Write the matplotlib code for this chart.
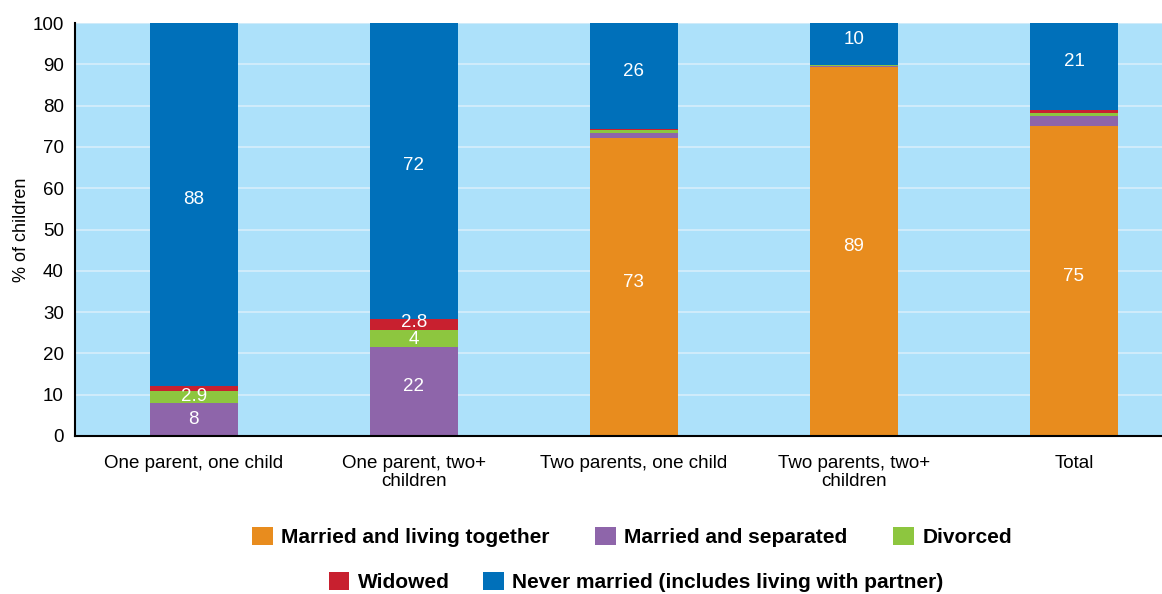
import numpy as np
import matplotlib.pyplot as plt

# categories and segment values (% of children)
categorias = ["One parent, one child", "One parent, two+\nchildren",
              "Two parents, one child", "Two parents, two+\nchildren", "Total"]
casados_juntos = [0.0, 0.0, 72.2, 89.3, 75.1]
casados_separados = [8.0, 21.6, 1.2, 0.3, 2.4]
divorciados = [2.9, 4.0, 0.7, 0.2, 0.6]
viuvos = [1.1, 2.8, 0.2, 0.0, 0.8]
nunca_casados = [88.0, 71.6, 25.7, 10.2, 21.1]

rotulos_juntos = ["", "", "73", "89", "75"]
rotulos_separados = ["8", "22", "", "", ""]
rotulos_divorciados = ["2.9", "4", "", "", ""]
rotulos_viuvos = ["", "2.8", "", "", ""]
rotulos_nunca = ["88", "72", "26", "10", "21"]

series = [
    ("Married and living together", casados_juntos, rotulos_juntos, "#E88C1E"),
    ("Married and separated", casados_separados, rotulos_separados, "#8E65AA"),
    ("Divorced", divorciados, rotulos_divorciados, "#8DC63F"),
    ("Widowed", viuvos, rotulos_viuvos, "#C8202F"),
    ("Never married (includes living with partner)", nunca_casados, rotulos_nunca, "#0070BA"),
]

plt.rcParams['font.family'] = ['Liberation Sans', 'DejaVu Sans']

fig = plt.figure(figsize=(11.62, 5.94), dpi=100)
ax = fig.add_axes([75 / 1162, 1 - 436 / 594, 1087 / 1162, 413 / 594])
ax.set_facecolor("#ADE1FA")

x = np.arange(len(categorias))
base = np.zeros(len(categorias))
handles = []
for nome, vals, rotulos, cor in series:
    vals = np.array(vals)
    b = ax.bar(x, vals, 0.4, bottom=base, color=cor, label=nome, zorder=2)
    handles.append(b)
    for xi, v, bo, r in zip(x, vals, base, rotulos):
        if not r:
            continue
        # os rótulos dos segmentos grandes ficam um pouco acima do centro
        if v > 8:
            desloc = 3.5
        elif nome == "Widowed":
            desloc = 1.2
        elif nome == "Divorced" and v > 3.5:
            desloc = -1.0
        else:
            desloc = 0
        ax.annotate(r, (xi, bo + v / 2), xytext=(0, desloc), textcoords="offset points",
                    ha="center", va="center", color="white", fontsize=13.5, zorder=3)
    base = base + vals

ax.set_ylim(0, 100)
ax.set_xlim(-0.54, 4.40)
ax.set_yticks(np.arange(0, 101, 10))
ax.set_xticks(x)
ax.set_xticklabels(categorias, fontsize=13.5, linespacing=1.05)
ax.tick_params(axis="both", length=0, labelsize=13.5)
ax.tick_params(axis="x", pad=14)
ax.tick_params(axis="y", pad=8)
ax.yaxis.grid(True, color="#D6EEFA", linewidth=1.2, zorder=1)
ax.set_axisbelow(True)
for lado in ["top", "right"]:
    ax.spines[lado].set_visible(False)
ax.spines["left"].set_linewidth(1.5)
ax.spines["bottom"].set_linewidth(1.5)
ax.set_ylabel("% of children", fontsize=13, labelpad=2)

fonte_leg = {"family": ["Liberation Sans Narrow", "Liberation Sans", "DejaVu Sans"],
             "weight": "bold", "size": 15}
fig.legend(handles[:3], [s[0] for s in series[:3]], loc="center",
           bbox_to_anchor=(632 / 1162, 1 - 537 / 594), ncol=3, frameon=False,
           prop=fonte_leg, handlelength=1.0, handleheight=1.0, columnspacing=2.2, handletextpad=0.4)
fig.legend(handles[3:], [s[0] for s in series[3:]], loc="center",
           bbox_to_anchor=(636 / 1162, 1 - 582 / 594), ncol=2, frameon=False,
           prop=fonte_leg, handlelength=1.0, handleheight=1.0, columnspacing=1.6, handletextpad=0.4)

fig.savefig("out.png", dpi=100)
